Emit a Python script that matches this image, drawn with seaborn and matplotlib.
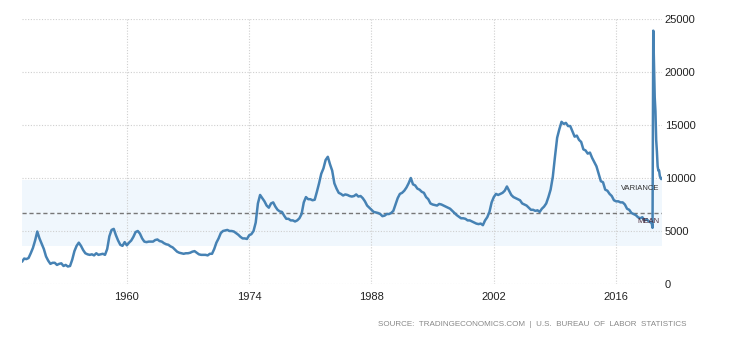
import numpy as np
import pandas as pd
import matplotlib
matplotlib.use("Agg")
import matplotlib.pyplot as plt
import seaborn as sns

# Unemployed persons, United States (thousands), quarterly readings 1948-2019
first_year = 1948
unemployed_quarterly = [
    2100, 2400, 2350, 2450,     # 1948
    2900, 3400, 4100, 4950,     # 1949
    4300, 3800, 3300, 2600,     # 1950
    2200, 1900, 2000, 2000,     # 1951
    1800, 1900, 1950, 1700,     # 1952
    1800, 1650, 1700, 2300,     # 1953
    3100, 3600, 3900, 3600,     # 1954
    3200, 2900, 2800, 2750,     # 1955
    2800, 2700, 2900, 2750,     # 1956
    2800, 2850, 2750, 3300,     # 1957
    4500, 5100, 5200, 4600,     # 1958
    4100, 3700, 3600, 3950,     # 1959
    3650, 3900, 4100, 4450,     # 1960
    4900, 5000, 4750, 4300,     # 1961
    4000, 3950, 4000, 4000,     # 1962
    4000, 4150, 4200, 4050,     # 1963
    4000, 3850, 3750, 3700,     # 1964
    3550, 3450, 3250, 3050,     # 1965
    2950, 2900, 2850, 2900,     # 1966
    2900, 2950, 3050, 3100,     # 1967
    2950, 2800, 2750, 2750,     # 1968
    2750, 2700, 2850, 2850,     # 1969
    3300, 3900, 4300, 4800,     # 1970
    5000, 5050, 5100, 5000,     # 1971
    5000, 4950, 4800, 4650,     # 1972
    4450, 4300, 4300, 4250,     # 1973
    4600, 4700, 5000, 5800,     # 1974
    7600, 8400, 8100, 7800,     # 1975
    7400, 7200, 7600, 7700,     # 1976
    7300, 7000, 6850, 6800,     # 1977
    6450, 6150, 6150, 6000,     # 1978
    6000, 5900, 6000, 6200,     # 1979
    6600, 7700, 8200, 8000,     # 1980
    8000, 7900, 7950, 8700,     # 1981
    9500, 10400, 10900, 11700,  # 1982
    12000, 11300, 10700, 9500,  # 1983
    9000, 8600, 8500, 8350,     # 1984
    8450, 8400, 8300, 8250,     # 1985
    8300, 8450, 8250, 8300,     # 1986
    8100, 7800, 7400, 7200,     # 1987
    7000, 6800, 6750, 6700,     # 1988
    6600, 6400, 6450, 6600,     # 1989
    6600, 6700, 6900, 7500,     # 1990
    8100, 8500, 8600, 8800,     # 1991
    9100, 9500, 10000, 9400,    # 1992
    9300, 9000, 8900, 8700,     # 1993
    8600, 8200, 8000, 7600,     # 1994
    7500, 7450, 7400, 7550,     # 1995
    7500, 7400, 7300, 7200,     # 1996
    7100, 6900, 6700, 6500,     # 1997
    6350, 6200, 6200, 6150,     # 1998
    6000, 6000, 5900, 5800,     # 1999
    5700, 5650, 5700, 5550,     # 2000
    6000, 6300, 6800, 7700,     # 2001
    8200, 8500, 8400, 8500,     # 2002
    8600, 8800, 9200, 8800,     # 2003
    8400, 8200, 8100, 8000,     # 2004
    7900, 7600, 7500, 7400,     # 2005
    7200, 7000, 7000, 6900,     # 2006
    6950, 6800, 7100, 7300,     # 2007
    7600, 8200, 8900, 10100,    # 2008
    12000, 13800, 14600, 15300, # 2009
    15100, 15200, 14900, 14900, # 2010
    14400, 13900, 14000, 13600, # 2011
    13400, 12700, 12600, 12300, # 2012
    12400, 11900, 11500, 11100, # 2013
    10400, 9700, 9600, 8900,    # 2014
    8800, 8500, 8300, 7900,     # 2015
    7800, 7800, 7700, 7700,     # 2016
    7500, 7100, 7000, 6700,     # 2017
    6600, 6500, 6300, 6200,     # 2018
    6300, 6000, 6100, 5900,     # 2019
]

# Monthly readings, January 2020 - April 2021
unemployed_monthly_2020 = [
    5800, 5700, 5300, 23900, 20900, 17600, 16300, 13600,
    12500, 11100, 10700, 10700, 10200, 10000, 9900, 10000,
]

mean_level = 6700
std_level = 3110
year_ticks = [1960, 1974, 1988, 2002, 2016]
value_ticks = [0, 5000, 10000, 15000, 20000, 25000]
source_note = "SOURCE:  TRADINGECONOMICS.COM  |  U.S.  BUREAU  OF  LABOR  STATISTICS"

t_quarterly = first_year + np.arange(len(unemployed_quarterly)) / 4.0
t_monthly = 2020 + np.arange(len(unemployed_monthly_2020)) / 12.0
df = pd.DataFrame({
    "year": np.concatenate([t_quarterly, t_monthly]),
    "unemployed": unemployed_quarterly + unemployed_monthly_2020,
})

sns.set_style("white")
plt.rcParams["font.family"] = ["Liberation Sans", "DejaVu Sans"]

fig = plt.figure(figsize=(7.3, 3.4), dpi=100)
ax = fig.add_axes([22 / 730, 1 - 284 / 340, 640 / 730, 265 / 340])

ax.axhspan(mean_level - std_level, mean_level + std_level,
           color="#f0f7fd", zorder=0, lw=0)
ax.axhline(mean_level, color="#777777", lw=1.0, ls=(0, (3, 2)), zorder=1)

sns.lineplot(data=df, x="year", y="unemployed", ax=ax, color="#4682b4",
             lw=1.8, zorder=3)

ax.set_xlim(df["year"].min(), df["year"].max())
ax.set_ylim(0, 25000)
ax.set_xticks(year_ticks)
ax.set_yticks(value_ticks)
ax.set_xticklabels([str(y) for y in year_ticks])
ax.set_yticklabels([str(v) for v in value_ticks])
ax.yaxis.tick_right()
ax.tick_params(axis="both", length=0, labelsize=8, colors="#222222")
ax.tick_params(axis="x", pad=6)
ax.tick_params(axis="y", pad=2)
ax.set_xlabel("")
ax.set_ylabel("")

ax.grid(True, color="#cfcfcf", lw=0.8, ls=(0, (1, 1.5)))
ax.set_axisbelow(True)
for s in ax.spines.values():
    s.set_visible(False)

ax.text(2021.0, 9000, "VARIANCE", fontsize=5.5, color="#333333",
        ha="right", va="center", zorder=4)
ax.text(2021.0, 5850, "MEAN", fontsize=5.5, color="#4a2a3a",
        ha="right", va="center", zorder=4)

fig.text(686 / 730, 1 - 325 / 340, source_note, fontsize=5.8,
         color="#888888", ha="right", va="center")

fig.savefig("out.png", dpi=100)
